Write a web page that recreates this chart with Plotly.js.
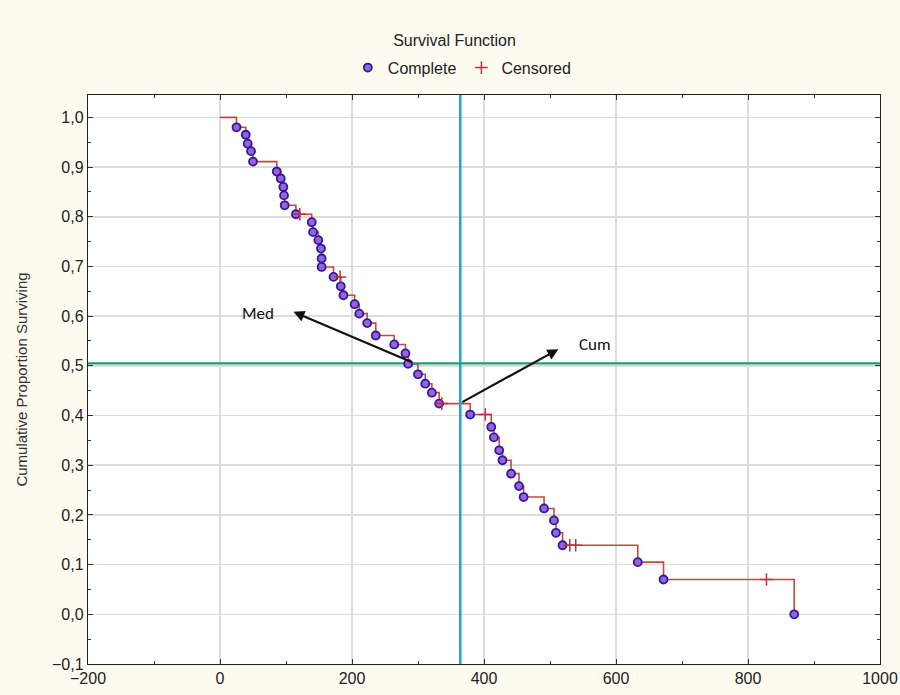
<!DOCTYPE html>
<html>
<head>
<meta charset="utf-8">
<script src="https://cdn.plot.ly/plotly-3.0.1.min.js"></script>
<style>html,body{margin:0;padding:0;background:#fdfaf0;}#chart{width:900px;height:695px;}</style>
</head>
<body>
<div id="chart"></div>
<script>
// Complete (event) observations: time and cumulative proportion surviving
const completeTimes = [25, 39, 42, 47, 50, 86, 92, 96, 97, 98, 115, 139, 141, 149, 153, 154, 154, 172, 183, 187, 204, 211, 223, 236, 264, 281, 285, 300, 311, 321, 332, 379, 411, 415, 423, 428, 441, 453, 460, 491, 506, 509, 519, 633, 672, 870];
const completeSurv  = [0.980, 0.965, 0.947, 0.932, 0.911, 0.891, 0.877, 0.860, 0.843, 0.823, 0.805, 0.789, 0.769, 0.753, 0.736, 0.716, 0.699, 0.679, 0.660, 0.642, 0.624, 0.605, 0.586, 0.561, 0.543, 0.525, 0.504, 0.483, 0.464, 0.446, 0.424, 0.402, 0.377, 0.356, 0.330, 0.310, 0.283, 0.258, 0.236, 0.213, 0.189, 0.164, 0.139, 0.105, 0.070, 0.000];
// Censored observations
const censoredTimes = [121, 182, 336, 402, 530, 539, 828];
const censoredSurv  = [0.805, 0.679, 0.424, 0.402, 0.139, 0.139, 0.070];
// Reference lines
const medianLineS = 0.505;
const cumLineT = 364;
// Annotation arrows: [baseT, baseS, tipT, tipS]
const medArrow = [291, 0.507, 109, 0.610];
const cumArrow = [367, 0.427, 515, 0.535];
const medLabel = {text: 'Med', t: 57, s: 0.606};
const cumLabel = {text: 'Cum', t: 568, s: 0.543};
const startTime = 0, startSurv = 1.0;

// Build step function from all observations
const events = [];
completeTimes.forEach((t, i) => events.push([t, completeSurv[i]]));
censoredTimes.forEach((t, i) => events.push([t, censoredSurv[i]]));
events.sort((a, b) => a[0] - b[0] || b[1] - a[1]);
const stepX = [startTime].concat(events.map(e => e[0]));
const stepY = [startSurv].concat(events.map(e => e[1]));

const font = 'Liberation Sans Narrow, Liberation Sans, Arial, sans-serif';

const traces = [
  {x: stepX, y: stepY, mode: 'lines', line: {shape: 'hv', color: '#c24a42', width: 1.6}, showlegend: false, hoverinfo: 'skip'},
  {x: [cumLineT, cumLineT], y: [-0.1, 1.045], mode: 'lines', line: {color: '#1fa6cc', width: 2.5}, showlegend: false},
  {x: [-200, 1000], y: [medianLineS, medianLineS], mode: 'lines', line: {color: '#1f9a78', width: 2.2}, showlegend: false},
  {x: completeTimes, y: completeSurv, mode: 'markers', name: 'Complete',
   marker: {symbol: 'circle', size: 8, color: '#9a62d6', line: {color: '#2c1aa0', width: 1.8}}},
  {x: censoredTimes, y: censoredSurv, mode: 'markers', name: 'Censored',
   marker: {symbol: 'cross-thin-open', size: 9, color: '#c0303a', line: {color: '#c0303a', width: 1.5}}}
];

const layout = {
  width: 900, height: 695, autosize: false,
  paper_bgcolor: '#fdfaf0', plot_bgcolor: '#ffffff',
  margin: {l: 88, r: 20, t: 95, b: 31, autoexpand: false},
  separators: ',.',
  font: {family: font, size: 14, color: '#222'},
  title: {text: 'Survival Function', x: 0.505, xref: 'container', y: 0.942, yref: 'container', yanchor: 'middle', xanchor: 'center', font: {family: font, size: 16, color: '#222'}},
  legend: {orientation: 'h', x: 0.472, xref: 'paper', xanchor: 'center', y: 1.048, yref: 'paper', yanchor: 'middle', font: {family: font, size: 16, color: '#222'}, bgcolor: 'rgba(0,0,0,0)'},
  xaxis: {range: [-200, 1000], dtick: 200, tick0: 0, showgrid: true, gridcolor: '#dcdcdc', gridwidth: 1.5, zeroline: false,
          showline: true, linecolor: '#222', linewidth: 1.2, mirror: 'ticks', ticks: 'inside', ticklen: 5, tickcolor: '#333',
          minor: {dtick: 100, ticks: 'inside', ticklen: 3, tickcolor: '#333', showgrid: false},
          tickfont: {family: font, size: 16, color: '#222'}},
  yaxis: {range: [-0.1, 1.045], dtick: 0.1, tick0: 0, tickformat: '.1f', showgrid: true, gridcolor: '#dcdcdc', gridwidth: 1.5, zeroline: false,
          showline: true, linecolor: '#222', linewidth: 1.2, mirror: 'ticks', ticks: 'inside', ticklen: 5, tickcolor: '#333',
          minor: {dtick: 0.05, ticks: 'inside', ticklen: 3, tickcolor: '#333', showgrid: false},
          tickfont: {family: font, size: 16, color: '#222'},
          title: {text: 'Cumulative Proportion Surviving', standoff: 20, font: {family: font, size: 15, color: '#333'}}},
  annotations: [
    {x: medArrow[0], y: medArrow[1], ax: medArrow[2], ay: medArrow[3], axref: 'x', ayref: 'y', xref: 'x', yref: 'y', text: '', showarrow: true, arrowside: 'start', arrowhead: 2, startarrowhead: 2, arrowwidth: 2.2, arrowcolor: '#111', startarrowsize: 1},
    {x: cumArrow[0], y: cumArrow[1], ax: cumArrow[2], ay: cumArrow[3], axref: 'x', ayref: 'y', xref: 'x', yref: 'y', text: '', showarrow: true, arrowside: 'start', arrowhead: 2, startarrowhead: 2, arrowwidth: 2.2, arrowcolor: '#111', startarrowsize: 1},
    {x: medLabel.t, y: medLabel.s, xref: 'x', yref: 'y', text: medLabel.text, showarrow: false, font: {family: 'Carlito, Liberation Sans, sans-serif', size: 17, color: '#111'}},
    {x: cumLabel.t, y: cumLabel.s, xref: 'x', yref: 'y', text: cumLabel.text, showarrow: false, font: {family: 'Carlito, Liberation Sans, sans-serif', size: 17, color: '#111'}}
  ]
};

Plotly.newPlot('chart', traces, layout, {displayModeBar: false, staticPlot: true});
</script>
</body>
</html>
